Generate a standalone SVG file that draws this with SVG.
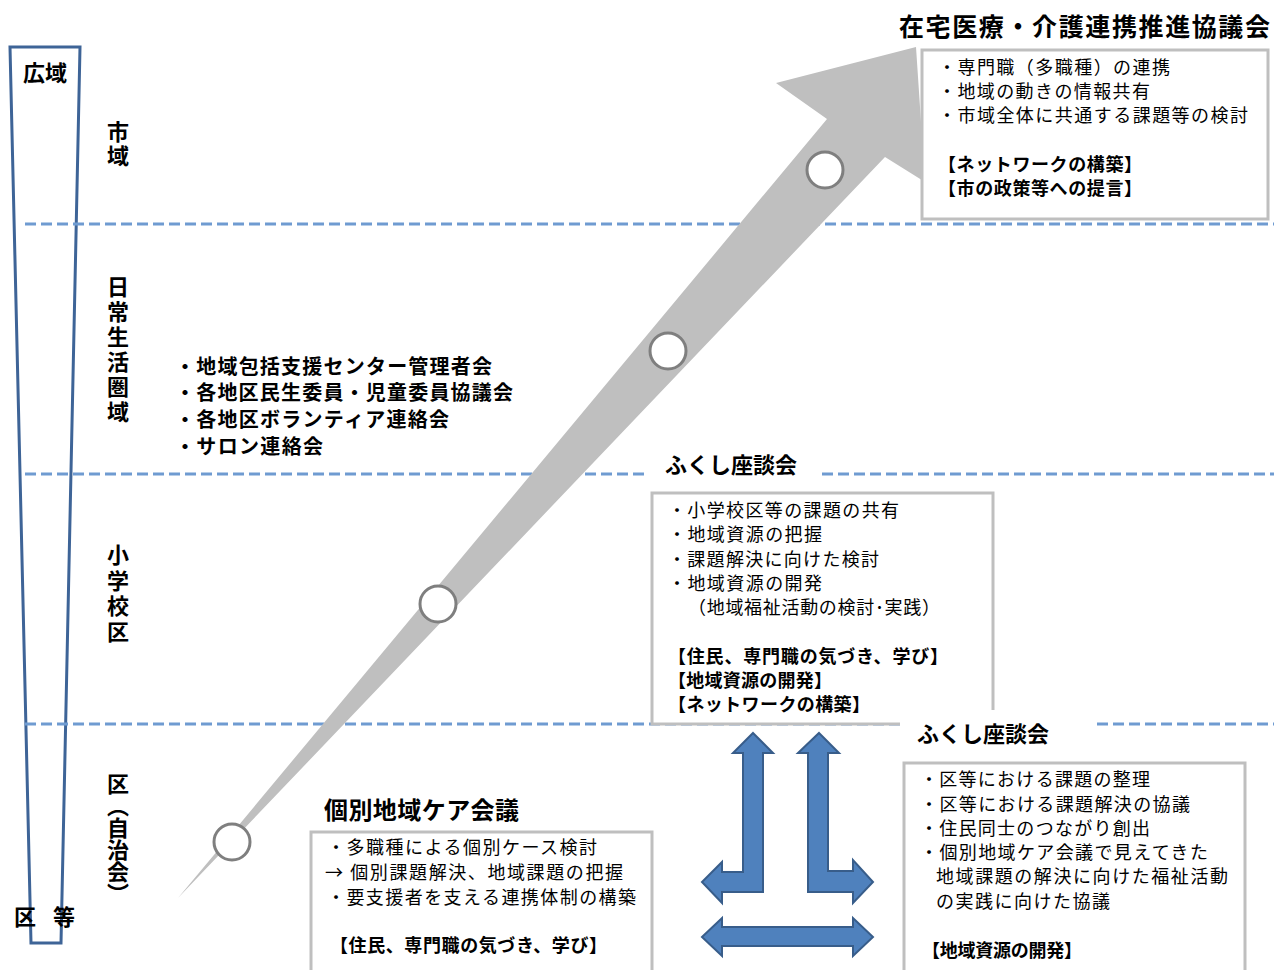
<svg xmlns="http://www.w3.org/2000/svg" width="1274" height="970" viewBox="0 0 1274 970">
<style>
text{font-family:"Noto Sans CJK JP","Noto Sans CJK SC",sans-serif;fill:#000}
.b{font-weight:bold}
.r{font-size:18px}
.rb{font-size:18px;font-weight:bold}
.vl{font-size:22px;font-weight:bold;writing-mode:vertical-rl}
.dash{stroke:#6f9bd1;stroke-width:3;stroke-dasharray:11 5;fill:none}
.box{fill:#fff;stroke:#bfbfbf;stroke-width:3}
.circ{fill:#fff;stroke:#7f7f7f;stroke-width:3}
.blue{fill:#4f81bd;stroke:#385d8a;stroke-width:2;stroke-linejoin:miter}
</style>
<rect width="1274" height="970" fill="#fff"/>
<g id="funnel">
<polygon points="10,47 80,47 61,943 31,943" fill="none" stroke="#3e6497" stroke-width="3"/>
<text x="45" y="81" class="b" font-size="22" text-anchor="middle">広域</text>
<text x="14" y="925" class="b" font-size="22">区</text>
<text x="53" y="925" class="b" font-size="22">等</text>
</g>
<g id="levels">
<text x="118" y="121" class="vl" style="letter-spacing:2px">市域</text>
<text x="118" y="276" class="vl" style="letter-spacing:3px">日常生活圏域</text>
<text x="118" y="544" class="vl" style="letter-spacing:3.5px">小学校区</text>
<text x="118" y="773" class="vl">区（自治会）</text>
</g>
<g id="connectors">
<line x1="25" y1="224" x2="1274" y2="224" class="dash"/>
<line x1="25" y1="474" x2="650" y2="474" class="dash"/>
<line x1="822" y1="474" x2="1274" y2="474" class="dash"/>
<line x1="25" y1="724" x2="900" y2="724" class="dash"/>
<line x1="1097" y1="724" x2="1274" y2="724" class="dash"/>
<polygon id="big-arrow" points="178,898 827,119 776,83 916,47 925,182 885,157" fill="#bfbfbf"/>
<circle cx="232" cy="842" r="18" class="circ"/>
<circle cx="438" cy="604" r="18" class="circ"/>
<circle cx="668" cy="351" r="18" class="circ"/>
<circle cx="825" cy="170" r="18" class="circ"/>
<polygon class="blue" points="753,733 773,753 763,753 763,892 722,892 722,903 702,882 722,862 722,872 743,872 743,753 733,753"/>
<polygon class="blue" points="819,733 839,753 828,753 828,871 853,871 853,860 873,882 853,903 853,892 808,892 808,753 798,753"/>
<polygon class="blue" points="702,937 722,918 722,927 853,927 853,918 873,937 853,956 853,946 722,946 722,956"/>
</g>
<g id="council">
<text x="899" y="36" class="b" font-size="25" textLength="371" lengthAdjust="spacing">在宅医療・介護連携推進協議会</text>
<rect x="922" y="50" width="346" height="169" class="box"/>
<text x="938" y="74" class="r" textLength="232" lengthAdjust="spacing">・専門職（多職種）の連携</text>
<text x="938" y="98" class="r" textLength="212" lengthAdjust="spacing">・地域の動きの情報共有</text>
<text x="938" y="122" class="r" textLength="310" lengthAdjust="spacing">・市域全体に共通する課題等の検討</text>
<text x="938" y="171" class="rb" textLength="204" lengthAdjust="spacing">【ネットワークの構築】</text>
<text x="938" y="195" class="rb" textLength="204" lengthAdjust="spacing">【市の政策等への提言】</text>
</g>
<g id="daily-list">
<text x="175" y="374" class="b" font-size="20" textLength="317" lengthAdjust="spacing">・地域包括支援センター管理者会</text>
<text x="175" y="400" class="b" font-size="20" textLength="338" lengthAdjust="spacing">・各地区民生委員・児童委員協議会</text>
<text x="175" y="427" class="b" font-size="20" textLength="274" lengthAdjust="spacing">・各地区ボランティア連絡会</text>
<text x="175" y="454" class="b" font-size="20" textLength="148" lengthAdjust="spacing">・サロン連絡会</text>
</g>
<g id="school-fukushi">
<rect x="648" y="456" width="170" height="26" fill="#fff"/>
<text x="665" y="473" class="b" font-size="22">ふくし座談会</text>
<rect x="652" y="493" width="341" height="231" class="box"/>
<text x="668" y="517" class="r" textLength="231" lengthAdjust="spacing">・小学校区等の課題の共有</text>
<text x="668" y="541" class="r" textLength="154" lengthAdjust="spacing">・地域資源の把握</text>
<text x="668" y="566" class="r" textLength="211" lengthAdjust="spacing">・課題解決に向けた検討</text>
<text x="668" y="590" class="r" textLength="154" lengthAdjust="spacing">・地域資源の開発</text>
<text x="688" y="614" class="r" textLength="252" lengthAdjust="spacing">（地域福祉活動の検討･実践）</text>
<text x="668" y="663" class="rb" textLength="280" lengthAdjust="spacing">【住民、専門職の気づき、学び】</text>
<text x="668" y="687" class="rb" textLength="164" lengthAdjust="spacing">【地域資源の開発】</text>
<text x="668" y="711" class="rb" textLength="202" lengthAdjust="spacing">【ネットワークの構築】</text>
</g>
<g id="care-meeting">
<text x="324" y="819" class="b" font-size="24" textLength="195" lengthAdjust="spacing">個別地域ケア会議</text>
<rect x="311" y="832" width="341" height="150" class="box"/>
<text x="327" y="854" class="r" textLength="270" lengthAdjust="spacing">・多職種による個別ケース検討</text>
<text x="325" y="879" class="r" textLength="298" lengthAdjust="spacing">→ 個別課題解決、地域課題の把握</text>
<text x="327" y="904" class="r" textLength="309" lengthAdjust="spacing">・要支援者を支える連携体制の構築</text>
<text x="330" y="952" class="rb" textLength="277" lengthAdjust="spacing">【住民、専門職の気づき、学び】</text>
</g>
<g id="district-fukushi">
<rect x="900" y="710" width="196" height="38" fill="#fff"/>
<text x="917" y="742" class="b" font-size="22">ふくし座談会</text>
<rect x="904" y="763" width="341" height="220" class="box"/>
<text x="920" y="786" class="r" textLength="230" lengthAdjust="spacing">・区等における課題の整理</text>
<text x="920" y="811" class="r" textLength="270" lengthAdjust="spacing">・区等における課題解決の協議</text>
<text x="920" y="835" class="r" textLength="230" lengthAdjust="spacing">・住民同士のつながり創出</text>
<text x="920" y="859" class="r" textLength="288" lengthAdjust="spacing">・個別地域ケア会議で見えてきた</text>
<text x="936" y="883" class="r" textLength="292" lengthAdjust="spacing">地域課題の解決に向けた福祉活動</text>
<text x="936" y="908" class="r" textLength="174" lengthAdjust="spacing">の実践に向けた協議</text>
<text x="922" y="957" class="rb" textLength="160" lengthAdjust="spacing">【地域資源の開発】</text>
</g>
</svg>
